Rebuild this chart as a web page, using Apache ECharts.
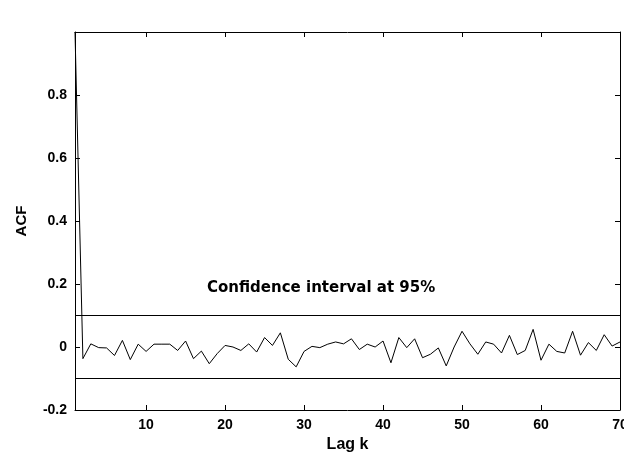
<!DOCTYPE html>
<html>
<head>
<meta charset="utf-8">
<script src="https://cdn.jsdelivr.net/npm/echarts@6/dist/echarts.min.js"></script>
<style>
  html, body { margin: 0; padding: 0; background: #fff; }
  #main { width: 624px; height: 460px; }
</style>
</head>
<body>
<div id="main"></div>
<script>
// lag index (1 = lag 0 in the original plot) and sample autocorrelation
var acf = [
  1.0, -0.037, 0.010, -0.002, -0.003, -0.027, 0.021, -0.040, 0.009, -0.014,
  0.009, 0.009, 0.009, -0.011, 0.019, -0.037, -0.013, -0.053, -0.021, 0.005,
  0.000, -0.011, 0.010, -0.016, 0.030, 0.005, 0.045, -0.039, -0.063, -0.014,
  0.002, -0.002, 0.009, 0.016, 0.010, 0.026, -0.008, 0.009, 0.000, 0.019,
  -0.050, 0.030, -0.002, 0.026, -0.034, -0.023, -0.003, -0.060, 0.000, 0.050,
  0.010, -0.023, 0.016, 0.009, -0.019, 0.037, -0.024, -0.011, 0.056, -0.042,
  0.009, -0.014, -0.019, 0.050, -0.026, 0.014, -0.011, 0.039, 0.003, 0.016
];
var lags = acf.map(function (v, i) { return i + 1; });
var confLimit = 0.097;
var xTicks = [10, 20, 30, 40, 50, 60, 70];

var font = '"Liberation Sans", Arial, sans-serif';
var myChart = echarts.init(document.getElementById('main'));

var option = {
  backgroundColor: '#fff',
  animation: false,
  grid: { left: 75, right: 4, top: 32, bottom: 50, outerBoundsMode: 'none' },
  xAxis: [{
    type: 'value',
    min: 1,
    max: 70,
    name: 'Lag k',
    nameLocation: 'middle',
    nameGap: 25,
    nameTextStyle: { fontFamily: font, fontWeight: 'bold', fontSize: 16, color: '#000' },
    axisLine: { onZero: false, lineStyle: { color: '#000', width: 1 } },
    axisTick: { inside: true, length: 5, customValues: xTicks, lineStyle: { color: '#000' } },
    axisLabel: { customValues: xTicks, fontFamily: font, fontWeight: 'bold', fontSize: 14, color: '#000', margin: 8 },
    splitLine: { show: false }
  }, {
    type: 'value',
    position: 'top',
    min: 1,
    max: 70,
    axisLine: { onZero: false, lineStyle: { color: '#000', width: 1 } },
    axisTick: { inside: true, length: 5, customValues: xTicks, lineStyle: { color: '#000' } },
    axisLabel: { show: false },
    splitLine: { show: false }
  }],
  yAxis: [{
    type: 'value',
    min: -0.2,
    max: 1.0,
    interval: 0.2,
    name: 'ACF',
    nameLocation: 'middle',
    nameGap: 46,
    nameRotate: 90,
    nameTextStyle: { fontFamily: font, fontWeight: 'bold', fontSize: 15, color: '#000' },
    axisLine: { show: true, onZero: false, lineStyle: { color: '#000', width: 1 } },
    axisTick: { inside: true, length: 5, lineStyle: { color: '#000' } },
    axisLabel: {
      showMaxLabel: false,
      fontFamily: font, fontWeight: 'bold', fontSize: 14, color: '#000', margin: 8,
      formatter: function (v) { return Math.abs(v) < 1e-9 ? '0' : v.toFixed(1); }
    },
    splitLine: { show: false }
  }, {
    type: 'value',
    position: 'right',
    min: -0.2,
    max: 1.0,
    interval: 0.2,
    axisLine: { show: true, onZero: false, lineStyle: { color: '#000', width: 1 } },
    axisTick: { inside: true, length: 5, lineStyle: { color: '#000' } },
    axisLabel: { show: false },
    splitLine: { show: false }
  }],
  graphic: [{
    type: 'text',
    left: 207,
    top: 281,
    style: {
      text: 'Confidence interval at 95%',
      font: 'bold 15px "DejaVu Sans", sans-serif',
      fill: '#000'
    }
  }],
  series: [{
    type: 'line',
    data: lags.map(function (l, i) { return [l, acf[i]]; }),
    symbol: 'none',
    lineStyle: { color: '#000', width: 1 },
    markLine: {
      silent: true,
      symbol: 'none',
      label: { show: false },
      lineStyle: { color: '#000', width: 1.2, type: 'solid' },
      data: [{ yAxis: confLimit }, { yAxis: -confLimit }]
    }
  }]
};
myChart.setOption(option);
</script>
</body>
</html>
